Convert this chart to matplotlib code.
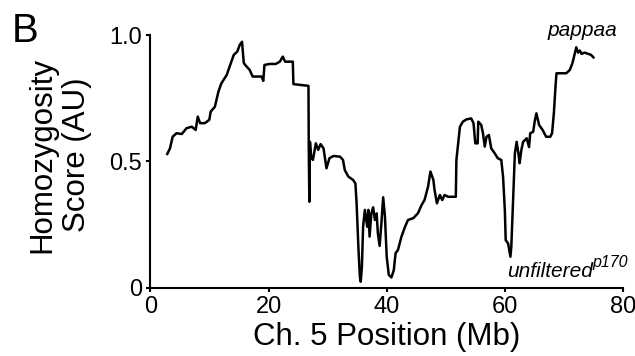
import matplotlib
matplotlib.use("Agg")
import matplotlib.pyplot as plt

# Homozygosity score along chromosome 5
position_mb = [
    2.84, 3.3, 3.75, 4.4, 5.3, 6.1, 7.0, 7.65, 8.0, 8.4, 9.2, 9.95, 10.2,
    10.9, 11.5, 12.0, 12.9, 13.7, 14.1, 14.7, 15.1, 15.5, 15.8, 16.3, 16.8,
    17.3, 18.2, 18.8, 19.1, 19.3, 20.2, 21.2, 21.9, 22.4, 22.8, 23.1, 24.1,
    24.2, 25.3, 26.75, 26.8, 26.9, 27.0, 27.2, 27.5, 28.0, 28.4, 28.8, 29.3,
    29.8, 30.3, 31.0, 32.1, 32.6, 32.9, 33.5, 34.3, 34.7, 34.9, 35.2, 35.45,
    35.6, 35.8, 36.0, 36.3, 36.7, 36.9, 37.1, 37.4, 37.7, 38.0, 38.3, 38.5,
    38.8, 39.1, 39.4, 39.7, 40.0, 40.35, 40.8, 41.2, 41.5, 41.9, 42.5, 43.1,
    43.6, 44.5, 45.3, 45.9, 46.4, 47.0, 47.4, 47.9, 48.1, 48.5, 49.0, 49.4,
    49.8, 50.4, 51.7, 51.8, 52.4, 52.9, 53.5, 54.3, 54.7, 55.0, 55.4, 55.5,
    56.0, 56.3, 56.6, 56.9, 57.3, 57.7, 58.3, 58.8, 59.4, 59.7, 60.0, 60.15,
    60.55, 60.95, 61.1, 61.4, 61.7, 62.0, 62.3, 62.5, 62.8, 63.1, 63.7, 64.1,
    64.3, 64.8, 65.1, 65.35, 65.8, 66.4, 67.0, 67.7, 68.0, 68.3, 68.6, 68.75,
    69.6, 70.4, 71.0, 71.45, 71.8, 72.1, 72.4, 72.7, 73.0, 73.5, 74.1, 74.6,
    75.0,
]
score = [
    0.53, 0.552, 0.598, 0.612, 0.609, 0.632, 0.638, 0.625, 0.678, 0.652,
    0.652, 0.665, 0.698, 0.717, 0.777, 0.81, 0.843, 0.896, 0.923, 0.936,
    0.962, 0.975, 0.89, 0.876, 0.863, 0.837, 0.837, 0.837, 0.82, 0.883,
    0.887, 0.887, 0.896, 0.916, 0.896, 0.896, 0.896, 0.807, 0.804, 0.80,
    0.56, 0.34, 0.578, 0.52, 0.506, 0.572, 0.546, 0.569, 0.552, 0.473,
    0.513, 0.522, 0.519, 0.506, 0.466, 0.44, 0.427, 0.413, 0.334, 0.162,
    0.043, 0.023, 0.083, 0.241, 0.308, 0.241, 0.308, 0.202, 0.294, 0.318,
    0.268, 0.294, 0.215, 0.165, 0.255, 0.358, 0.281, 0.122, 0.05, 0.04,
    0.069, 0.136, 0.149, 0.202, 0.241, 0.268, 0.275, 0.295, 0.327, 0.347,
    0.40, 0.46, 0.427, 0.387, 0.334, 0.367, 0.347, 0.367, 0.36, 0.36,
    0.506, 0.638, 0.658, 0.667, 0.671, 0.652, 0.572, 0.572, 0.658, 0.645,
    0.612, 0.559, 0.598, 0.605, 0.552, 0.532, 0.513, 0.506, 0.44, 0.308,
    0.188, 0.175, 0.122, 0.162, 0.347, 0.532, 0.578, 0.532, 0.493, 0.546,
    0.578, 0.592, 0.557, 0.612, 0.618, 0.665, 0.691, 0.645, 0.625, 0.598,
    0.598, 0.612, 0.691, 0.804, 0.85, 0.85, 0.85, 0.863, 0.89, 0.923,
    0.953, 0.932, 0.94, 0.927, 0.932, 0.927, 0.923, 0.913,
]

x_ticks = [0, 20, 40, 60, 80]
y_ticks = [0, 0.5, 1.0]
y_tick_labels = ["0", "0.5", "1.0"]

plt.rcParams["font.family"] = ["Liberation Sans", "DejaVu Sans"]

fig = plt.figure(figsize=(6.35, 3.56), dpi=100)
ax = fig.add_axes([0.237, 0.1924, 0.744, 0.708])

ax.plot(position_mb, score, color="black", linewidth=1.8)

ax.set_xlim(0, 80)
ax.set_ylim(0, 1.0)
ax.set_xticks(x_ticks)
ax.set_yticks(y_ticks)
ax.set_yticklabels(y_tick_labels)

for side in ["top", "right"]:
    ax.spines[side].set_visible(False)
for side in ["left", "bottom"]:
    ax.spines[side].set_linewidth(1.5)

ax.tick_params(axis="both", direction="out", length=3, width=1.5,
               labelsize=17)
ax.tick_params(axis="x", pad=3)
ax.tick_params(axis="y", pad=3)

ax.set_xlabel("Ch. 5 Position (Mb)", fontsize=22.5, labelpad=3)
ax.set_ylabel("Homozygosity\nScore (AU)", fontsize=22.5, linespacing=1.2)
ax.yaxis.set_label_coords(-0.124, 0.526)

ax.text(79.1, 0.998, "pappaa", fontsize=15, style="italic",
        ha="right", va="baseline")
ax.text(74.9, 0.043, "unfiltered", fontsize=15, style="italic",
        ha="right", va="baseline")
ax.text(74.9, 0.081, "p170", fontsize=11.5, style="italic",
        ha="left", va="baseline")

fig.text(0.018, 0.882, "B", fontsize=29, ha="left", va="baseline")

fig.savefig("out.png", dpi=100)
